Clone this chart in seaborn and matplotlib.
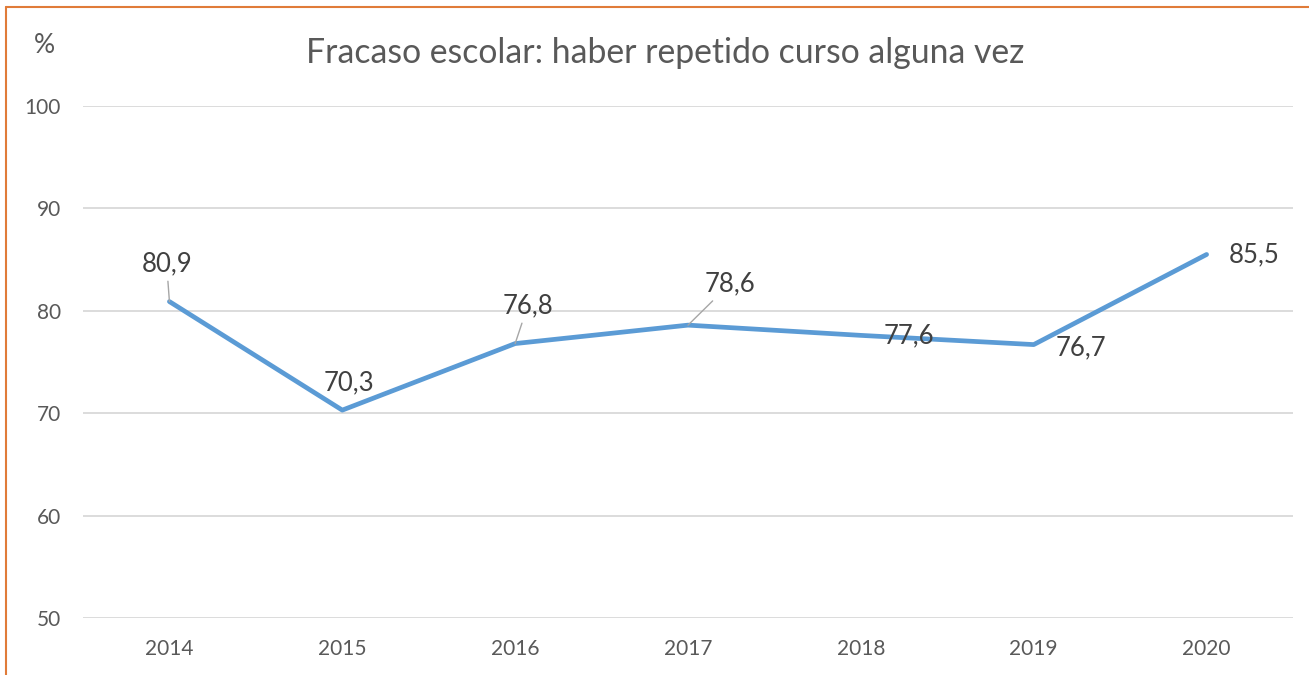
import matplotlib
matplotlib.use("Agg")
import matplotlib.pyplot as plt
from matplotlib.lines import Line2D
import seaborn as sns
import pandas as pd
import numpy as np

# datos
anios = ["2014", "2015", "2016", "2017", "2018", "2019", "2020"]
valores = [80.9, 70.3, 76.8, 78.6, 77.6, 76.7, 85.5]
etiquetas = ["80,9", "70,3", "76,8", "78,6", "77,6", "76,7", "85,5"]
ticks_y = [50, 60, 70, 80, 90, 100]

# desplazamiento de cada etiqueta (puntos) y si lleva linea guia
desplazamientos = [(-2, 27), (5, 20), (9, 27), (30, 29.5), (34.5, 0), (34, -2), (34, 0)]
con_guia = [True, False, True, True, False, False, False]

sns.set_theme(style="white")
plt.rcParams["font.family"] = ["Lato", "DejaVu Sans"]

df = pd.DataFrame({"pos": np.arange(len(anios)), "valor": valores})

fig = plt.figure(figsize=(13.09, 6.75), dpi=100)
ax = fig.add_axes([0.0634, 0.0844, 0.9244, 0.7586])

sns.lineplot(data=df, x="pos", y="valor", ax=ax, color="#5B9BD5", linewidth=3.4)

ax.set_xlim(-0.5, len(anios) - 0.5)
ax.set_ylim(50, 100)
ax.set_yticks(ticks_y)
ax.set_xticks(df["pos"])
ax.set_xticklabels(anios)
ax.yaxis.grid(True, color="#D9D9D9", linewidth=1.3)
ax.xaxis.grid(False)
for s in ax.spines.values():
    s.set_visible(False)
ax.tick_params(axis="both", length=0, labelsize=15, colors="#595959")
ax.tick_params(axis="y", pad=16)
ax.tick_params(axis="x", pad=15)
ax.set_xlabel("")
ax.set_ylabel("")

for i, (v, txt) in enumerate(zip(valores, etiquetas)):
    dx, dy = desplazamientos[i]
    props = dict(arrowstyle="-", color="#A6A6A6", lw=1, shrinkA=1, shrinkB=0) if con_guia[i] else None
    ax.annotate(txt, xy=(i, v), xytext=(dx, dy), textcoords="offset points",
                ha="center", va="center", fontsize=18.5, color="#404040",
                arrowprops=props, zorder=5)

fig.text(0.508, 0.922, "Fracaso escolar: haber repetido curso alguna vez",
         ha="center", va="center", fontsize=24.3, color="#595959")
fig.text(0.034, 0.933, "%", ha="center", va="center", fontsize=19, color="#595959")

# borde naranja (izquierda y arriba)
fig.add_artist(Line2D([0.0046, 0.0046], [0, 0.99], transform=fig.transFigure,
                      color="#E07B39", linewidth=1.5))
fig.add_artist(Line2D([0.0046, 1], [0.99, 0.99], transform=fig.transFigure,
                      color="#E07B39", linewidth=1.5))

fig.savefig("out.png", dpi=100)
